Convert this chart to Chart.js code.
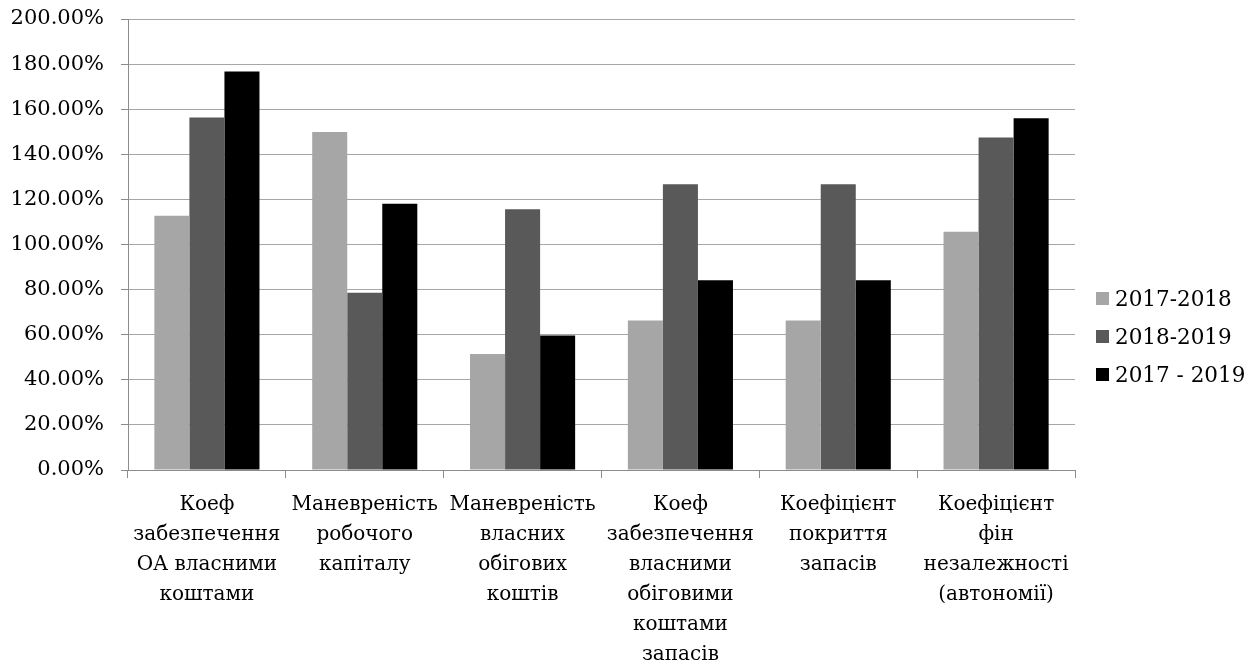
<!DOCTYPE html>
<html>
<head>
<meta charset="utf-8">
<script src="https://cdn.jsdelivr.net/npm/chart.js@4/dist/chart.umd.min.js"></script>
<style>
  html, body { margin: 0; padding: 0; background: #ffffff; }
  #wrap { position: relative; width: 1259px; height: 668px; }
  #c { position: absolute; left: 0; top: 0; }
  #legend { position: absolute; left: 1096px; top: 283px; font-family: "DejaVu Serif", serif; font-size: 21.5px; color: #000; }
  .row { position: absolute; left: 0; display: flex; align-items: center; white-space: nowrap; height: 30px; }
  .box { width: 13px; height: 13px; margin-right: 6px; }
</style>
</head>
<body>
<div id="wrap">
  <canvas id="c" width="1259" height="668"></canvas>
  <div id="legend"></div>
</div>
<script>
// Indicator names (one entry per category, split into display lines)
const categories = [
  ["Коеф", "забезпечення", "ОА власними", "коштами"],
  ["Маневреність", "робочого", "капіталу"],
  ["Маневреність", "власних", "обігових", "коштів"],
  ["Коеф", "забезпечення", "власними", "обіговими", "коштами", "запасів"],
  ["Коефіцієнт", "покриття", "запасів"],
  ["Коефіцієнт", "фін", "незалежності", "(автономії)"]
];

const seriesNames = ["2017-2018", "2018-2019", "2017 - 2019"];

// Values in percent
const values2017_2018 = [112.8, 149.9, 51.4, 66.3, 66.3, 105.7];
const values2018_2019 = [156.3, 78.6, 115.6, 126.7, 126.7, 147.4];
const values2017_2019 = [176.7, 118.1, 59.6, 84.2, 84.2, 156.0];

const yTicks = [0, 20, 40, 60, 80, 100, 120, 140, 160, 180, 200];

const seriesColors = ["#a6a6a6", "#595959", "#000000"];
const seriesValues = [values2017_2018, values2018_2019, values2017_2019];

const serif = "'DejaVu Serif', serif";

const datasets = seriesNames.map((name, i) => ({
  label: name,
  data: seriesValues[i],
  backgroundColor: seriesColors[i],
  borderColor: seriesColors[i],
  borderWidth: 0,
  categoryPercentage: 0.666,
  barPercentage: 1.0
}));

new Chart(document.getElementById("c"), {
  type: "bar",
  data: { labels: categories, datasets },
  options: {
    responsive: false,
    animation: false,
    layout: { padding: { top: 19, right: 184, left: 0, bottom: 0 } },
    plugins: {
      legend: { display: false },
      tooltip: { enabled: false }
    },
    scales: {
      x: {
        offset: true,
        grid: {
          offset: true,
          drawOnChartArea: false,
          drawTicks: true,
          tickLength: 8,
          color: "#8c8c8c"
        },
        border: { color: "#8c8c8c", width: 1 },
        ticks: {
          autoSkip: false,
          maxRotation: 0,
          minRotation: 0,
          padding: 12,
          color: "#000",
          font: { family: serif, size: 20, lineHeight: 1.5 }
        },
        afterFit(scale) {
          scale.height = 198;
          scale.paddingLeft = 0;
          scale.paddingRight = 0;
        }
      },
      y: {
        min: 0,
        max: 200,
        afterBuildTicks(scale) { scale.ticks = yTicks.map(v => ({ value: v })); },
        grid: {
          color: "#a6a6a6",
          lineWidth: 1,
          drawTicks: true,
          tickLength: 7,
          tickColor: "#8c8c8c"
        },
        border: { color: "#8c8c8c", width: 1 },
        ticks: {
          padding: 17,
          color: "#000",
          font: { family: serif, size: 21 },
          callback: v => Number(v).toFixed(2) + "%"
        },
        afterFit(scale) {
          scale.width = 128;
          scale.paddingTop = 0;
          scale.paddingBottom = 0;
        }
      }
    }
  }
});

// Legend built from the series definitions
const legend = document.getElementById("legend");
seriesNames.forEach((name, i) => {
  const row = document.createElement("div");
  row.className = "row";
  row.style.top = (i * 38.3) + "px";
  const box = document.createElement("span");
  box.className = "box";
  box.style.background = seriesColors[i];
  const txt = document.createElement("span");
  txt.textContent = name;
  row.appendChild(box);
  row.appendChild(txt);
  legend.appendChild(row);
});
</script>
</body>
</html>
